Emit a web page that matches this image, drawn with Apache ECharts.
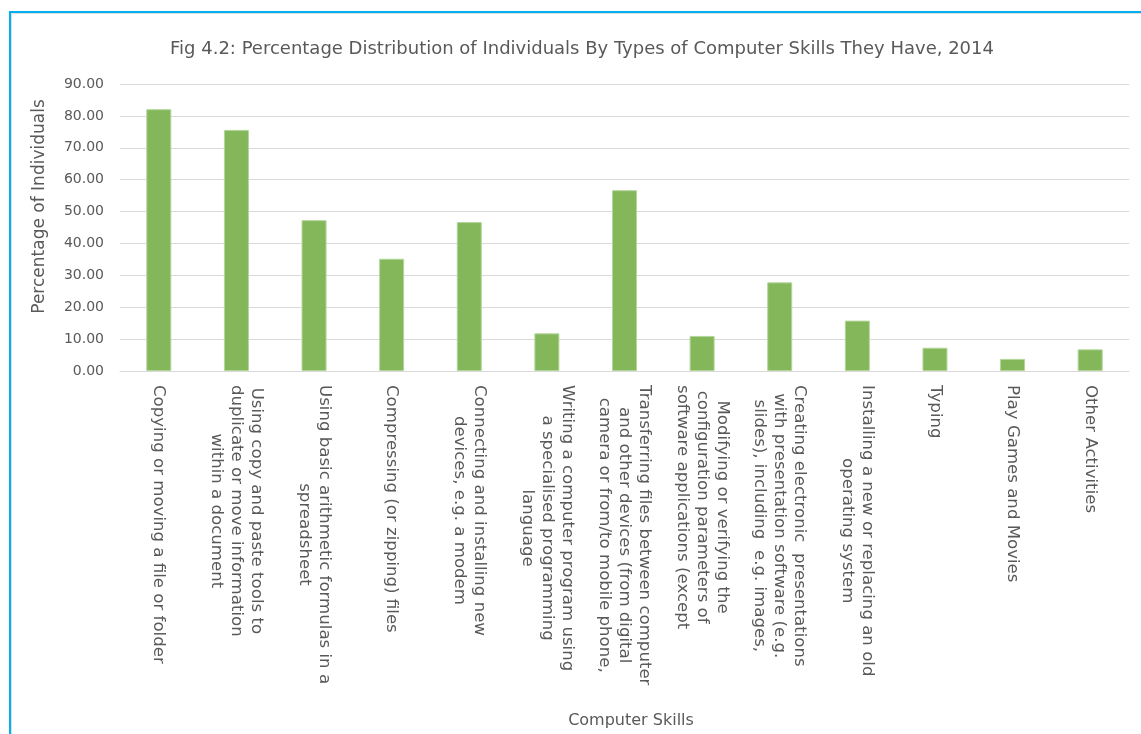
<!DOCTYPE html>
<html>
<head>
<meta charset="utf-8">
<title>Computer Skills, 2014</title>
<script src="https://cdn.jsdelivr.net/npm/echarts@6.0.0/dist/echarts.min.js"></script>
<style>
  html, body { margin: 0; padding: 0; background: #ffffff; overflow: hidden; }
  #frame {
    position: absolute; left: 9px; top: 11px; width: 1200px; height: 800px;
    border-left: 2px solid #00b0f0; border-top: 2px solid #00b0f0;
  }
  #frame-inner {
    position: absolute; left: 0; top: 0; width: 100%; height: 100%;
    border-left: 1px solid #dedede; border-top: 1px solid #dedede;
  }
  #chart { position: absolute; left: 0; top: 0; width: 1141px; height: 734px; }
</style>
</head>
<body>
<div id="frame"><div id="frame-inner"></div></div>
<div id="chart"></div>
<script>
// Skill categories (line breaks as printed under each bar)
const categories = [
  "Copying or moving a file or folder",
  "Using copy and paste tools to\nduplicate or move information\nwithin a document",
  "Using basic arithmetic formulas in a\nspreadsheet",
  "Compressing (or zipping) files",
  "Connecting and installing new\ndevices, e.g. a modem",
  "Writing a computer program using\na specialised programming\nlanguage",
  "Transferring files between computer\nand other devices (from digital\ncamera or from/to mobile phone,",
  "Modifying or verifying the\nconfiguration parameters of\nsoftware applications (except",
  "Creating electronic  presentations\nwith presentation software (e.g.\nslides), including  e.g. images,",
  "Installing a new or replacing an old\noperating system",
  "Typing",
  "Play Games and Movies",
  "Other Activities"
];

// Percentage of individuals having each skill
const percentages = [82.1, 75.6, 47.3, 35.2, 46.7, 11.8, 56.7, 11.0, 27.8, 15.8, 7.3, 3.8, 6.8];

// Value axis ticks
const yTicks = [0, 10, 20, 30, 40, 50, 60, 70, 80, 90];

const titleText = "Fig 4.2: Percentage Distribution of Individuals By Types of Computer Skills They Have, 2014";
const xAxisTitle = "Computer Skills";
const yAxisTitle = "Percentage of Individuals";

const FONT = "DejaVu Sans";
const TEXT_COLOR = "#595959";
const LABEL_SIZE = 16.6;

const chart = echarts.init(document.getElementById("chart"), null, { renderer: "canvas" });

chart.setOption({
  animation: false,
  title: {
    text: titleText,
    left: 577,
    textAlign: "center",
    top: 35,
    textStyle: { fontFamily: FONT, fontSize: 18, fontWeight: "normal", color: TEXT_COLOR }
  },
  grid: { left: 120, right: 12, top: 84, bottom: 363 },
  xAxis: {
    type: "category",
    data: categories,
    name: xAxisTitle,
    nameLocation: "middle",
    nameGap: 342,
    nameTextStyle: { fontFamily: FONT, fontSize: 16, color: TEXT_COLOR, padding: [0, 0, 0, 13] },
    axisLine: { show: true, lineStyle: { color: "#d9d9d9", width: 1 } },
    axisTick: { show: false },
    axisLabel: {
      interval: 0,
      rotate: -90,
      margin: 14,
      color: TEXT_COLOR,
      fontFamily: FONT,
      fontSize: LABEL_SIZE,
      lineHeight: 20,
      // each printed line is centred within the label block
      formatter: function (value) {
        return value.split("\n").map(function (line) { return "{c|" + line + "}"; }).join("\n");
      },
      rich: {
        c: { align: "center", fontFamily: FONT, fontSize: LABEL_SIZE, lineHeight: 20, color: TEXT_COLOR }
      }
    }
  },
  yAxis: {
    type: "value",
    min: yTicks[0],
    max: yTicks[yTicks.length - 1],
    interval: yTicks[1] - yTicks[0],
    name: yAxisTitle,
    nameLocation: "middle",
    nameGap: 72,
    nameTextStyle: { fontFamily: FONT, fontSize: 17, color: TEXT_COLOR, padding: [0, 0, 0, 42] },
    axisLine: { show: false },
    axisTick: { show: false },
    axisLabel: {
      margin: 16,
      color: TEXT_COLOR,
      fontFamily: FONT,
      fontSize: 14,
      formatter: function (v) { return v.toFixed(2); }
    },
    splitLine: { lineStyle: { color: "#d9d9d9", width: 1 } }
  },
  series: [{
    type: "bar",
    data: percentages,
    barWidth: 25,
    itemStyle: { color: "#83b75a", borderColor: "#b3d69b", borderWidth: 1 }
  }]
});
</script>
</body>
</html>
